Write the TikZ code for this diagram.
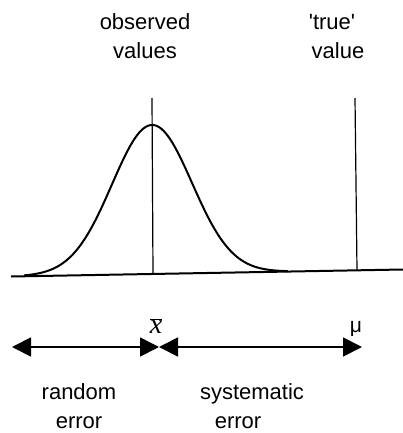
\documentclass[tikz,border=0pt]{standalone}
\usepackage{fontspec}
\setmainfont{Liberation Sans}
\newfontfamily\xserif{Liberation Serif}
\newfontfamily\plainsans{Liberation Sans}[Ligatures=TeXOff]
\usetikzlibrary{arrows.meta}
\tikzset{
  lbl/.style={font=\fontsize{22}{29}\selectfont, align=center, inner sep=0pt, anchor=base},
  thin line/.style={line width=1.2pt},
  curve/.style={line width=2pt},
  dimarrow/.style={line width=1.8pt, {Triangle[length=19pt,width=19pt]}-{Triangle[length=19pt,width=19pt]}}
}
\begin{document}
\begin{tikzpicture}[x=1pt,y=-1pt]
\useasboundingbox (0,0) rectangle (403,433);
% labels
\node[lbl] (obs1) at (145,30) {observed};
\node[lbl] (obs2) at (145,59) {values};
\node[lbl] (tru1) at (332,30) {\plainsans 'true'};
\node[lbl] (tru2) at (338,59) {value};
\node[lbl] (ran1) at (79,399) {random};
\node[lbl] (ran2) at (79,428) {error};
\node[lbl] (sys1) at (252,399) {systematic};
\node[lbl] (sys2) at (238,428) {error};
\node[font=\fontsize{28}{30}\selectfont\xserif, inner sep=0pt, anchor=base] (xbar) at (156,333) {$\overline{\mbox{\itshape x}}$};
\node[font=\fontsize{21}{24}\selectfont, inner sep=0pt, anchor=base] (mu) at (356,332) {μ};
% coordinates
\coordinate (bl) at (11,276.5);
\coordinate (br) at (403,269.5);
\coordinate (otop) at (152,98);
\coordinate (obot) at (153,274);
\coordinate (ttop) at (355,98);
\coordinate (tbot) at (357,270);
\coordinate (aL) at (12,347);
\coordinate (aM) at (159,347);
\coordinate (aR) at (362,347);
% baseline
\draw[curve] (bl) -- (br);
% vertical lines
\draw[thin line] (otop) -- (obot);
\draw[thin line] (ttop) -- (tbot);
% gaussian
\draw[curve, line join=round] plot[domain=-3.2:3.4, samples=120, smooth]
  ({152+40*\x}, {276.5-0.01786*(40*\x+141) - 149*exp(-(\x*\x)/2)});
% arrows
\draw[dimarrow] (aL) -- (aM);
\draw[dimarrow] (aM) -- (aR);
\end{tikzpicture}
\end{document}
